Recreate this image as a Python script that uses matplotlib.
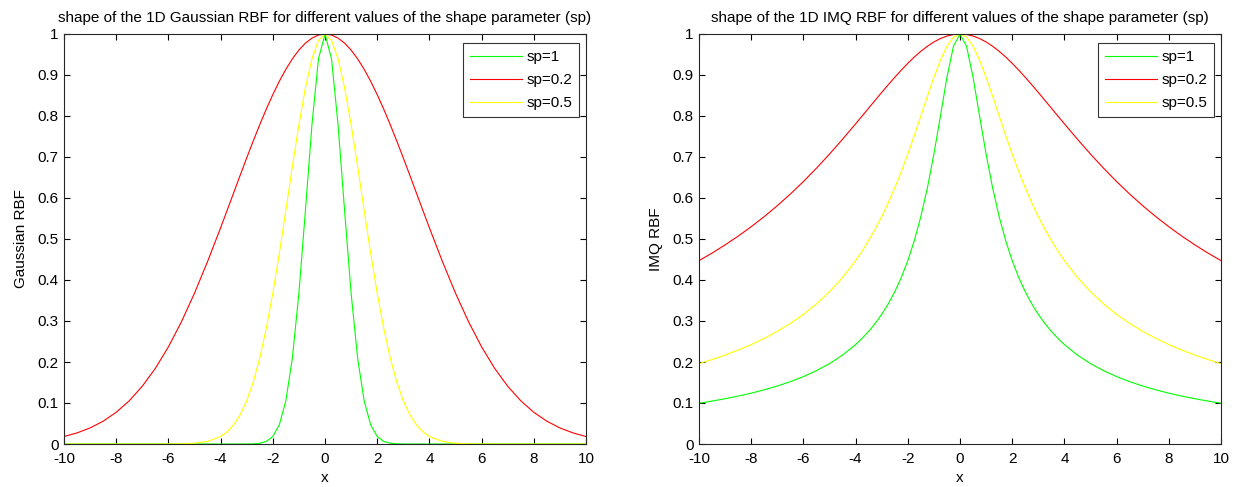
import matplotlib
matplotlib.use("Agg")
import matplotlib.pyplot as plt

plt.rcParams['font.family'] = ['Liberation Sans', 'DejaVu Sans']
plt.rcParams['axes.unicode_minus'] = False

x = [-10, -9.5, -9, -8.5, -8, -7.5, -7, -6.5, -6, -5.5, -5, -4.5,
     -4, -3.75, -3.5, -3.25, -3, -2.75, -2.5, -2.25, -2, -1.75, -1.5, -1.25,
     -1, -0.75, -0.5, -0.25, 0, 0.25, 0.5, 0.75, 1,
     1.25, 1.5, 1.75, 2, 2.25, 2.5, 2.75, 3, 3.25, 3.5, 3.75, 4,
     4.5, 5, 5.5, 6, 6.5, 7, 7.5, 8, 8.5, 9, 9.5, 10]

gauss_sp1 = [0, 0, 0, 0, 0, 0, 0, 0, 0, 0, 0, 0,
             0, 0, 0, 0, 0.0001, 0.0005, 0.0019, 0.0063, 0.0183, 0.0468, 0.1054, 0.2096,
             0.3679, 0.5698, 0.7788, 0.9394, 1.0, 0.9394, 0.7788, 0.5698, 0.3679,
             0.2096, 0.1054, 0.0468, 0.0183, 0.0063, 0.0019, 0.0005, 0.0001, 0, 0, 0, 0,
             0, 0, 0, 0, 0, 0, 0, 0, 0, 0, 0, 0]
gauss_sp02 = [0.0183, 0.0271, 0.0392, 0.0556, 0.0773, 0.1054, 0.1409, 0.1845, 0.2369, 0.2982, 0.3679, 0.4449,
              0.5273, 0.5698, 0.6126, 0.6554, 0.6977, 0.7390, 0.7788, 0.8167, 0.8521, 0.8847, 0.9139, 0.9394,
              0.9608, 0.9778, 0.9900, 0.9975, 1.0, 0.9975, 0.9900, 0.9778, 0.9608,
              0.9394, 0.9139, 0.8847, 0.8521, 0.8167, 0.7788, 0.7390, 0.6977, 0.6554, 0.6126, 0.5698, 0.5273,
              0.4449, 0.3679, 0.2982, 0.2369, 0.1845, 0.1409, 0.1054, 0.0773, 0.0556, 0.0392, 0.0271, 0.0183]
gauss_sp05 = [0, 0, 0, 0, 0, 0, 0, 0, 0.0001, 0.0005, 0.0019, 0.0063,
              0.0183, 0.0297, 0.0468, 0.0713, 0.1054, 0.1510, 0.2096, 0.2821, 0.3679, 0.4650, 0.5698, 0.6767,
              0.7788, 0.8688, 0.9394, 0.9845, 1.0, 0.9845, 0.9394, 0.8688, 0.7788,
              0.6767, 0.5698, 0.4650, 0.3679, 0.2821, 0.2096, 0.1510, 0.1054, 0.0713, 0.0468, 0.0297, 0.0183,
              0.0063, 0.0019, 0.0005, 0.0001, 0, 0, 0, 0, 0, 0, 0, 0]

imq_sp1 = [0.0995, 0.1047, 0.1104, 0.1168, 0.1240, 0.1322, 0.1414, 0.1521, 0.1644, 0.1789, 0.1961, 0.2169,
           0.2425, 0.2577, 0.2747, 0.2941, 0.3162, 0.3417, 0.3714, 0.4061, 0.4472, 0.4961, 0.5547, 0.6247,
           0.7071, 0.8000, 0.8944, 0.9701, 1.0, 0.9701, 0.8944, 0.8000, 0.7071,
           0.6247, 0.5547, 0.4961, 0.4472, 0.4061, 0.3714, 0.3417, 0.3162, 0.2941, 0.2747, 0.2577, 0.2425,
           0.2169, 0.1961, 0.1789, 0.1644, 0.1521, 0.1414, 0.1322, 0.1240, 0.1168, 0.1104, 0.1047, 0.0995]
imq_sp02 = [0.4472, 0.4657, 0.4856, 0.5070, 0.5300, 0.5547, 0.5812, 0.6097, 0.6402, 0.6727, 0.7071, 0.7433,
            0.7809, 0.8000, 0.8192, 0.8384, 0.8575, 0.8762, 0.8944, 0.9119, 0.9285, 0.9439, 0.9578, 0.9701,
            0.9806, 0.9889, 0.9950, 0.9988, 1.0, 0.9988, 0.9950, 0.9889, 0.9806,
            0.9701, 0.9578, 0.9439, 0.9285, 0.9119, 0.8944, 0.8762, 0.8575, 0.8384, 0.8192, 0.8000, 0.7809,
            0.7433, 0.7071, 0.6727, 0.6402, 0.6097, 0.5812, 0.5547, 0.5300, 0.5070, 0.4856, 0.4657, 0.4472]
imq_sp05 = [0.1961, 0.2060, 0.2169, 0.2290, 0.2425, 0.2577, 0.2747, 0.2941, 0.3162, 0.3417, 0.3714, 0.4061,
            0.4472, 0.4706, 0.4961, 0.5241, 0.5547, 0.5882, 0.6247, 0.6644, 0.7071, 0.7526, 0.8000, 0.8480,
            0.8944, 0.9363, 0.9701, 0.9923, 1.0, 0.9923, 0.9701, 0.9363, 0.8944,
            0.8480, 0.8000, 0.7526, 0.7071, 0.6644, 0.6247, 0.5882, 0.5547, 0.5241, 0.4961, 0.4706, 0.4472,
            0.4061, 0.3714, 0.3417, 0.3162, 0.2941, 0.2747, 0.2577, 0.2425, 0.2290, 0.2169, 0.2060, 0.1961]

labels = ['sp=1', 'sp=0.2', 'sp=0.5']
colors = ['#00ff00', '#ff0000', '#ffff00']
xticks = [-10, -8, -6, -4, -2, 0, 2, 4, 6, 8, 10]
yticks = [0, 0.1, 0.2, 0.3, 0.4, 0.5, 0.6, 0.7, 0.8, 0.9, 1]
ytick_labels = ['0', '0.1', '0.2', '0.3', '0.4', '0.5', '0.6', '0.7', '0.8', '0.9', '1']

W, H = 1235, 487
fig = plt.figure(figsize=(W / 100, H / 100), dpi=100)
fs = 11

panels = [
    (64, 'shape of the 1D Gaussian RBF for different values of the shape parameter (sp)',
     'Gaussian RBF', [gauss_sp1, gauss_sp02, gauss_sp05]),
    (699, 'shape of the 1D IMQ RBF for different values of the shape parameter (sp)',
     'IMQ RBF', [imq_sp1, imq_sp02, imq_sp05]),
]
ax_w, top, bottom = 522, 34, 444
for left, title, ylabel, series in panels:
    ax = fig.add_axes([left / W, 1 - bottom / H, ax_w / W, (bottom - top) / H])
    for ys, c, lab in zip(series, colors, labels):
        ax.plot(x, ys, color=c, lw=0.8, label=lab)
    ax.set_xlim(-10, 10)
    ax.set_ylim(0, 1)
    ax.set_xticks(xticks)
    ax.set_yticks(yticks)
    ax.set_yticklabels(ytick_labels)
    ax.tick_params(direction='in', length=4, width=0.8, top=True, right=True,
                   labelsize=fs, colors='black')
    ax.tick_params(axis='x', pad=5.5)
    ax.tick_params(axis='y', pad=4)
    for sp in ax.spines.values():
        sp.set_linewidth(0.8)
        sp.set_color('#262626')
    ax.set_title(title, fontsize=fs, pad=8.5)
    ax.set_xlabel('x', fontsize=fs, labelpad=4)
    ax.set_ylabel(ylabel, fontsize=fs, labelpad=7)
    leg = ax.legend(loc='upper right', bbox_to_anchor=(1 - 7 / ax_w, 1 - 9 / (bottom - top)),
                    borderaxespad=0, fontsize=fs, frameon=True, fancybox=False,
                    handlelength=3.4, handletextpad=0.3, labelspacing=0.6, borderpad=0.45)
    leg.get_frame().set_edgecolor('black')
    leg.get_frame().set_linewidth(0.8)

fig.savefig('out.png', dpi=100, facecolor='white')
